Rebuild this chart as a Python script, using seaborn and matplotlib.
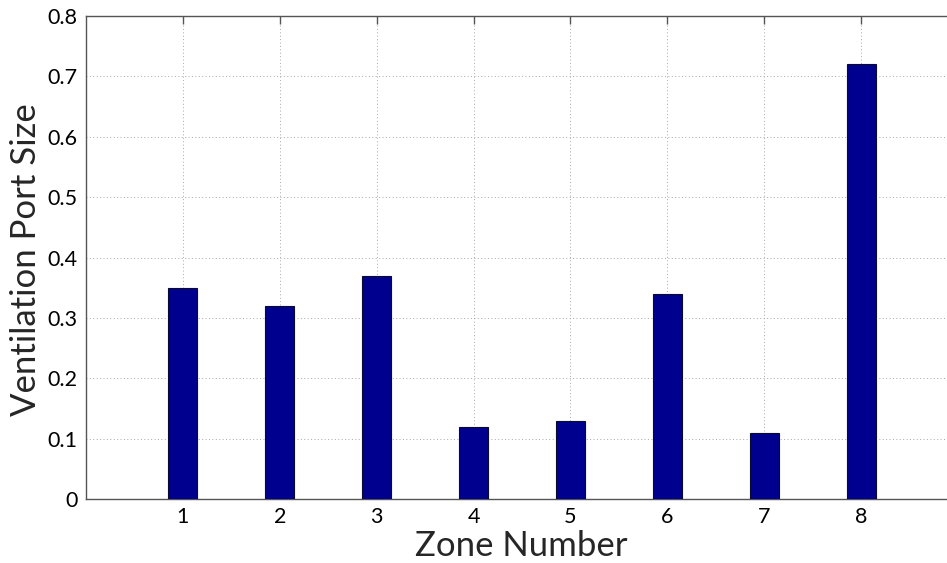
import matplotlib
matplotlib.use("Agg")
import matplotlib.pyplot as plt
import seaborn as sns
import pandas as pd

zones = [1, 2, 3, 4, 5, 6, 7, 8]
port_size = [0.35, 0.32, 0.37, 0.12, 0.13, 0.34, 0.11, 0.72]
yticks = [0, 0.1, 0.2, 0.3, 0.4, 0.5, 0.6, 0.7, 0.8]
ytick_labels = ["0", "0.1", "0.2", "0.3", "0.4", "0.5", "0.6", "0.7", "0.8"]

sns.set_style("white")
plt.rcParams['font.family'] = ['Lato', 'DejaVu Sans']

df = pd.DataFrame({"zone": zones, "size": port_size})

fig = plt.figure(figsize=(9.47, 5.63), dpi=100)
ax = fig.add_axes([86 / 947, 1 - 499 / 563, (958 - 86) / 947, (499 - 16) / 563])

sns.barplot(data=df, x="zone", y="size", native_scale=True, width=0.3,
            color="#00008F", edgecolor="#0a0a30", linewidth=0.8,
            saturation=1, ax=ax, zorder=3)

ax.set_xlim(0, 9)
ax.set_ylim(0, 0.8)
ax.set_xticks(zones)
ax.set_xticklabels([str(z) for z in zones])
ax.set_yticks(yticks)
ax.set_yticklabels(ytick_labels)

ax.grid(True, linestyle=(0, (1, 2.5)), color="#a8a8a8", linewidth=0.7, zorder=0)
ax.set_axisbelow(True)

for s in ax.spines.values():
    s.set_color("#555555")
    s.set_linewidth(1.0)

ax.tick_params(axis="both", direction="in", length=6, width=1, color="#555555",
               labelsize=15.5, labelcolor="black", top=True, right=True, pad=6)

ax.set_xlabel("Zone Number", fontsize=25)
ax.set_ylabel("Ventilation Port Size", fontsize=25)
ax.xaxis.label.set_va("center")
ax.yaxis.label.set_va("center")
ax.xaxis.set_label_coords(0.4994, (499 - 546) / 483)
ax.yaxis.set_label_coords((26 - 86) / 872, (499 - 260) / 483)

fig.savefig("out.png", dpi=100)
